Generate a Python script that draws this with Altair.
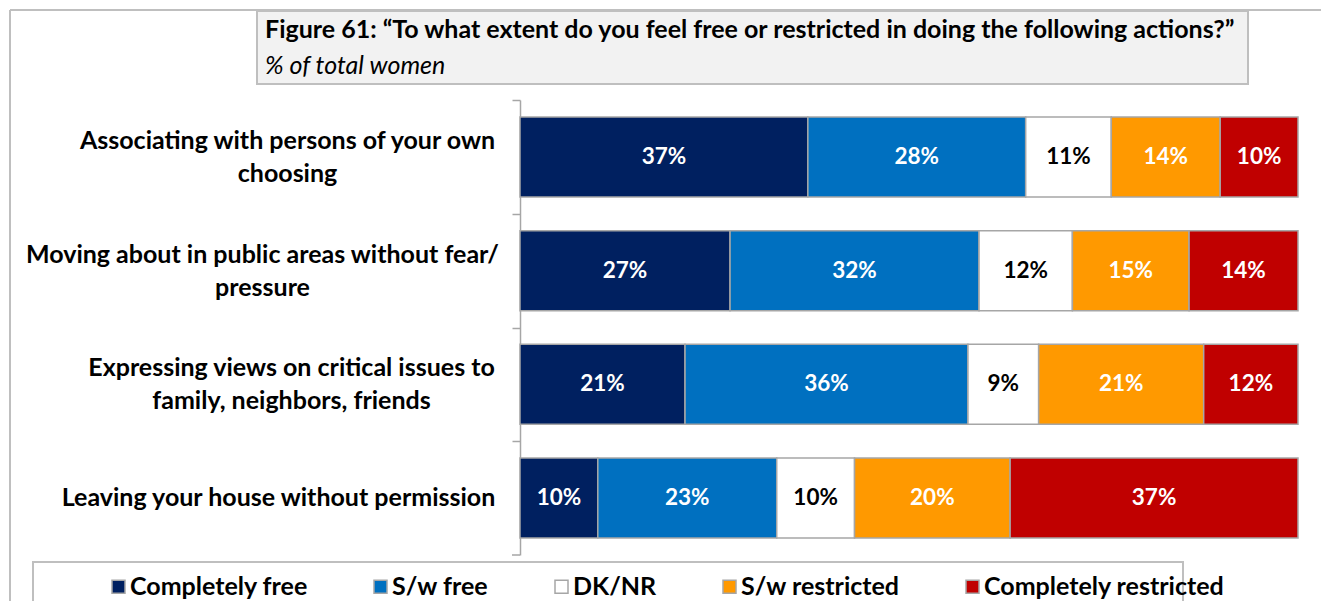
import altair as alt
import pandas as pd

tasks = [
    "Associating with persons of your own\nchoosing",
    "Moving about in public areas without fear/\npressure",
    "Expressing views on critical issues to\nfamily, neighbors, friends",
    "Leaving your house without permission",
]
categories = ["Completely free", "S/w free", "DK/NR", "S/w restricted", "Completely restricted"]
completely_free = [37, 27, 21, 10]
sw_free = [28, 32, 36, 23]
dk_nr = [11, 12, 9, 10]
sw_restricted = [14, 15, 21, 20]
completely_restricted = [10, 14, 12, 37]
colors = ["#002060", "#0070C0", "#FFFFFF", "#FF9900", "#C00000"]

title_line1 = "Figure 61: \u201cTo what extent do you feel free or restricted in doing the following actions?\u201d"
title_line2 = "% of total women"

series = [completely_free, sw_free, dk_nr, sw_restricted, completely_restricted]
rows = []
for ci, (cat, vals) in enumerate(zip(categories, series)):
    for ti, task in enumerate(tasks):
        rows.append({"task": task, "cat": cat, "value": vals[ti], "order": ci})
df = pd.DataFrame(rows)

FONT = "Lato"
GRAY = "#a6a6a6"
H = 455
P_IN, P_OUT = 0.296, 0.15
STEP = H / (len(tasks) - P_IN + 2 * P_OUT)
HALF = STEP / 2

base = alt.Chart(df).transform_stack(
    stack="value", groupby=["task"], as_=["x0", "x1"], offset="normalize",
    sort=[alt.SortField("order", order="ascending")]
).transform_calculate(
    mid="(datum.x0 + datum.x1) / 2", label="datum.value + '%'"
)

yenc = alt.Y(
    "task:N", sort=tasks,
    scale=alt.Scale(paddingInner=P_IN, paddingOuter=P_OUT),
    axis=alt.Axis(
        title=None, domainColor=GRAY, domainWidth=1.5, tickColor=GRAY, tickWidth=1.5,
        tickSize=8, tickOffset=-HALF, labelAlign="center",
        labelPadding={"condition": [
            {"test": "indexof(datum.label, 'Moving') == 0", "value": 250},
            {"test": "indexof(datum.label, 'Expressing') == 0", "value": 221},
            {"test": "indexof(datum.label, 'Leaving') == 0", "value": 234},
        ], "value": 225},
        labelOffset={"condition": {"test": "indexof(datum.label, '\\n') >= 0",
                                   "value": HALF - 16.5}, "value": HALF},
        labelFont=FONT, labelFontSize=25, labelFontWeight="bold", labelColor="#000000",
        labelLimit=0, labelLineHeight=33, labelExpr="split(datum.label, '\\n')",
    ),
)
xscale = alt.Scale(domain=[0, 1], nice=False)

bars = base.mark_bar(stroke=GRAY, strokeWidth=1.5).encode(
    x=alt.X("x0:Q", scale=xscale, axis=None),
    x2="x1:Q",
    y=yenc,
    color=alt.Color(
        "cat:N", scale=alt.Scale(domain=categories, range=colors),
        legend=alt.Legend(
            title=None, orient="none", legendX=-414, legendY=474,
            direction="horizontal", columns=5, symbolType="square", symbolSize=169,
            symbolStrokeColor=GRAY, symbolStrokeWidth=1.5, symbolOpacity=1,
            labelFont=FONT, labelFontSize=25, labelFontWeight="bold", labelColor="#000000",
            columnPadding=60, labelOffset=alt.ExprRef("-1"), labelLimit=0,
        ),
    ),
)

texts = base.mark_text(font=FONT, fontSize=22.5, fontWeight="bold").encode(
    x=alt.X("mid:Q", scale=xscale, axis=None),
    y=alt.Y("task:N", sort=tasks),
    text="label:N",
    color=alt.condition(alt.datum.cat == "DK/NR", alt.value("#000000"), alt.value("white")),
)

one = alt.Chart(pd.DataFrame({"k": [0]}))
last_tick = one.mark_rule(color=GRAY, strokeWidth=1.5).encode(
    x=alt.value(-8), x2=alt.value(0), y=alt.value(H))
frame_left = one.mark_rule(color="#bfbfbf", strokeWidth=2).encode(
    x=alt.value(-510), y=alt.value(-90), y2=alt.value(520))
frame_top = one.mark_rule(color="#bfbfbf", strokeWidth=2).encode(
    x=alt.value(-510), x2=alt.value(900), y=alt.value(-90))
title_box = one.mark_rect(fill="#f2f2f2", stroke="#bfbfbf", strokeWidth=2).encode(
    x=alt.value(-263), x2=alt.value(728), y=alt.value(-89), y2=alt.value(-16))
title1 = one.mark_text(align="left", baseline="middle", font=FONT, fontSize=25,
                       fontWeight="bold", color="#000000").encode(
    x=alt.value(-255), y=alt.value(-70), text=alt.value(title_line1))
title2 = one.mark_text(align="left", baseline="middle", font=FONT, fontSize=25,
                       fontStyle="italic", color="#000000").encode(
    x=alt.value(-255), y=alt.value(-34), text=alt.value(title_line2))
legend_box = one.mark_rect(fill="white", stroke="#bfbfbf", strokeWidth=2).encode(
    x=alt.value(-487), x2=alt.value(663), y=alt.value(462), y2=alt.value(540))

chart = alt.layer(
    frame_left, frame_top, title_box, title1, title2, legend_box, bars, texts, last_tick
).properties(
    width=778, height=H,
    autosize=alt.AutoSizeParams(type="none"),
    padding={"left": 512, "top": 92, "right": 23, "bottom": 46},
    background="white",
).configure_view(stroke=None)

chart.save("out.html", embed_options={"renderer": "svg", "actions": False})
